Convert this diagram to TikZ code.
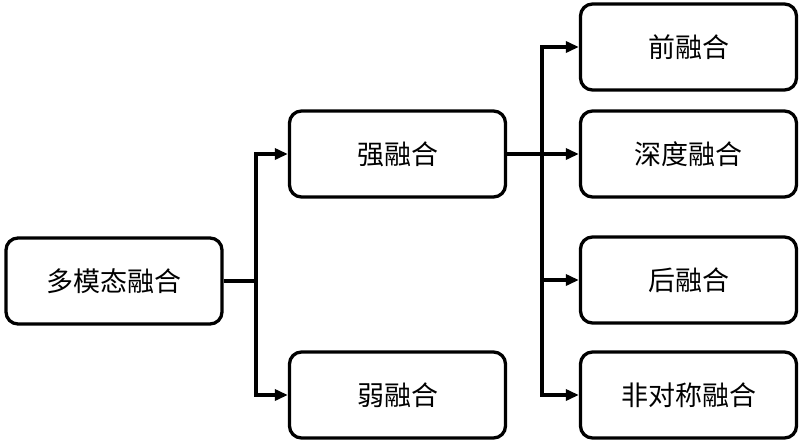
\documentclass[tikz,border=0pt]{standalone}
\usepackage{fontspec}
\newfontfamily\cjk{Noto Sans CJK SC}
\usetikzlibrary{arrows.meta}

\begin{document}
\begin{tikzpicture}
  [x=1pt,y=-1pt,
   every node/.style={draw,rounded corners=12pt,line width=3.3pt,
     minimum width=216pt,minimum height=86pt,font=\cjk\fontsize{27}{32}\selectfont},
   link/.style={line width=3.3pt},
   arr/.style={line width=3.3pt,-{Triangle[length=13pt,width=11pt]}}]
  \useasboundingbox (0,0) rectangle (802,444);

  \node (mm) at (114,281) {多模态融合};
  \node (strong) at (397.5,154) {强融合};
  \node (weak) at (397.5,395) {弱融合};
  \node (front) at (688.5,47) {前融合};
  \node (deep) at (688.5,154) {深度融合};
  \node (late) at (688.5,280) {后融合};
  \node (asym) at (688.5,395) {非对称融合};

  \coordinate (j1) at (256,281);
  \coordinate (j2) at (542,154);

  \draw [link] (mm.east) -- (j1);
  \foreach \to in {strong, weak}
    \draw [arr] (j1) |- (\to.west);
  \draw [arr] (strong.east) -- (deep.west);
  \foreach \to in {front, late, asym}
    \draw [arr] (j2) |- (\to.west);

\end{tikzpicture}
\end{document}
